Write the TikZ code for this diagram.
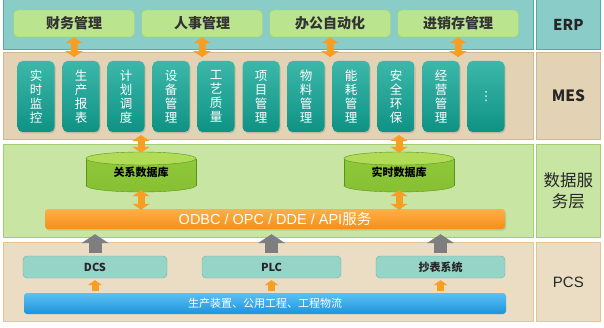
\documentclass[tikz,border=0pt]{standalone}
\usepackage{fontspec}
\setmainfont{Noto Sans CJK SC}
\newfontfamily\arial{Liberation Sans}
\newfontfamily\symfont{DejaVu Sans}
\usetikzlibrary{arrows.meta,calc,positioning,shadows}
\definecolor{ErpTeal}{RGB}{138,205,200}
\definecolor{ErpLine}{RGB}{80,172,166}
\definecolor{ErpGreen}{RGB}{186,228,142}
\definecolor{ErpGreenLine}{RGB}{150,206,102}
\definecolor{MesTan}{RGB}{228,210,180}
\definecolor{MesLine}{RGB}{204,184,150}
\definecolor{MesTealTop}{RGB}{60,184,170}
\definecolor{MesTealBot}{RGB}{14,146,132}
\definecolor{DataGreen}{RGB}{200,229,164}
\definecolor{DataLine}{RGB}{160,206,112}
\definecolor{CylTop}{RGB}{176,220,88}
\definecolor{CylBody}{RGB}{136,194,52}
\definecolor{CylLine}{RGB}{88,148,28}
\definecolor{BarOrange}{RGB}{246,142,24}
\definecolor{BarOrangeTop}{RGB}{252,176,72}
\definecolor{ArrOrange}{RGB}{247,158,36}
\definecolor{ArrGray}{RGB}{126,126,126}
\definecolor{PcsTan}{RGB}{235,221,196}
\definecolor{PcsLine}{RGB}{230,196,146}
\definecolor{PcsTeal}{RGB}{150,212,200}
\definecolor{PcsTealLine}{RGB}{98,182,168}
\definecolor{BarBlue}{RGB}{28,148,220}
\definecolor{BarBlueTop}{RGB}{92,192,242}

\begin{document}
\begin{tikzpicture}[x=1pt,y=1pt,>=Latex,
    band/.style={draw,line width=0.8pt,minimum width=530,inner sep=0,anchor=south west},
    tag/.style={draw,line width=0.8pt,minimum width=64,inner sep=0,anchor=south west,text=black!85},
    erpbox/.style={draw=ErpGreenLine,fill=ErpGreen,rounded corners=4pt,minimum width=121,minimum height=27,
      font=\bfseries\fontsize{14}{16}\selectfont,text=black!80},
    mesbox/.style={top color=MesTealTop,bottom color=MesTealBot,rounded corners=5pt,minimum width=37,
      minimum height=71,inner sep=0,align=center,text=white,font=\fontsize{12.5}{14}\selectfont,
      drop shadow={opacity=0.3,shadow xshift=1pt,shadow yshift=-1.5pt}},
    dbnode/.style={minimum width=110,minimum height=40,inner sep=0,font=\bfseries\fontsize{11}{13}\selectfont},
    pcsbox/.style={draw=PcsTealLine,fill=PcsTeal,rounded corners=4pt,minimum height=22,
      font=\bfseries\fontsize{11}{13}\selectfont,text=black!85},
    dblarrow/.style={draw=ArrOrange,line width=7pt,{Triangle[width=17pt,length=6pt]}-{Triangle[width=17pt,length=6pt]}},
    uparrow/.style={draw=ArrGray,line width=13pt,-{Triangle[width=27pt,length=9pt]}},
    smallup/.style={draw=ArrOrange,line width=7pt,-{Triangle[width=14pt,length=5pt]}}]
  \useasboundingbox (0,0) rectangle (604,327);

  % layers and their tags
  \node[band,fill=ErpTeal,draw=ErpLine,minimum height=50] (erp) at (3,277) {};
  \node[band,fill=MesTan,draw=MesLine,minimum height=87] (mes) at (3,187) {};
  \node[band,fill=DataGreen,draw=DataLine,minimum height=93] (data) at (3,89) {};
  \node[band,fill=PcsTan,draw=PcsLine,minimum height=79] (pcs) at (3,5) {};
  \node[tag,fill=ErpTeal,draw=ErpLine,minimum height=50,font=\bfseries\fontsize{15}{17}\selectfont] (erptag) at (536,277) {ERP};
  \node[tag,fill=MesTan,draw=MesLine,minimum height=87,font=\bfseries\fontsize{15.5}{17}\selectfont] (mestag) at (536,187) {MES};
  \node[tag,fill=DataGreen,draw=DataLine,minimum height=93,align=center,font=\fontsize{16.5}{21}\selectfont] (datatag) at (536,89) {数据服\\务层};
  \node[tag,fill=PcsTan,draw=PcsLine,minimum height=79,font=\arial\fontsize{15}{17}\selectfont] (pcstag) at (536,5) {PCS};

  % ERP
  \foreach \n/\x/\t in {fin/74/财务管理,hr/202/人事管理,oa/330/办公自动化,inv/458/进销存管理}
    \node[erpbox] (\n) at (\x,303.5) {\t};

  % MES
  \foreach \t [count=\i] in {实\\时\\监\\控,生\\产\\报\\表,计\\划\\调\\度,设\\备\\管\\理,工\\艺\\质\\量,
      项\\目\\管\\理,物\\料\\管\\理,能\\耗\\管\\理,安\\全\\环\\保,经\\营\\管\\理,{\symfont ⋮}}
    \node[mesbox] (m\i) at ({36+45*(\i-1)},230.5) {\t};
  \foreach \n in {fin,hr,oa,inv}
    \draw[dblarrow,shorten >=-5pt] (\n.south) -- (\n.south |- mes.north);

  % databases
  \coordinate (relc) at (141,155);
  \coordinate (rtc) at (399,155);
  \foreach \c in {relc,rtc} {
    \filldraw[fill=CylBody,draw=CylLine] ($(\c)+(0,-13.5)$) ellipse [x radius=55,y radius=6.5];
    \fill[top color=CylBody!80!CylTop,bottom color=CylBody] ($(\c)+(-55,-13.5)$) rectangle ($(\c)+(55,13.5)$);
    \draw[CylLine] ($(\c)+(-55,-13.5)$) -- ++(0,27) ($(\c)+(55,-13.5)$) -- ++(0,27);
    \filldraw[fill=CylTop,draw=CylLine] ($(\c)+(0,13.5)$) ellipse [x radius=55,y radius=6.5];
  }
  \node[dbnode] (reldb) at (relc) {关系数据库};
  \node[dbnode] (rtdb) at (rtc) {实时数据库};
  \node[top color=BarOrangeTop,bottom color=BarOrange,rounded corners=3pt,minimum width=460,minimum height=20,
    inner sep=0,text=white,font=\fontsize{14.5}{16}\selectfont,
    drop shadow={opacity=0.25,shadow xshift=1pt,shadow yshift=-1.5pt}] (api) at (275,108) {{\arial ODBC / OPC / DDE / API}服务};
  \foreach \n in {reldb,rtdb} {
    \draw[dblarrow,shorten <=-5pt,shorten >=-1pt] (\n.north |- mes.south) -- (\n.north);
    \draw[dblarrow,shorten <=-2pt,shorten >=-1pt] (\n.south) -- (\n.south |- api.north);
  }

  % PCS
  \node[pcsbox,minimum width=144] (dcs) at (95,60) {DCS};
  \node[pcsbox,minimum width=139] (plc) at (271.5,60) {PLC};
  \node[pcsbox,minimum width=129] (meter) at (440.5,60) {抄表系统};
  \node[top color=BarBlueTop,bottom color=BarBlue,rounded corners=3pt,minimum width=482,minimum height=21,
    inner sep=0,text=white,font=\fontsize{11}{13}\selectfont] (plant) at (265,23.5) {生产装置、公用工程、工程物流};
  \foreach \n in {dcs,plc,meter} {
    \draw[uparrow,shorten <=3pt,shorten >=5pt] (\n.north) -- (\n.north |- api.south);
    \draw[smallup,shorten <=2pt,shorten >=2pt] (\n.south |- plant.north) -- (\n.south);
  }
\end{tikzpicture}
\end{document}
